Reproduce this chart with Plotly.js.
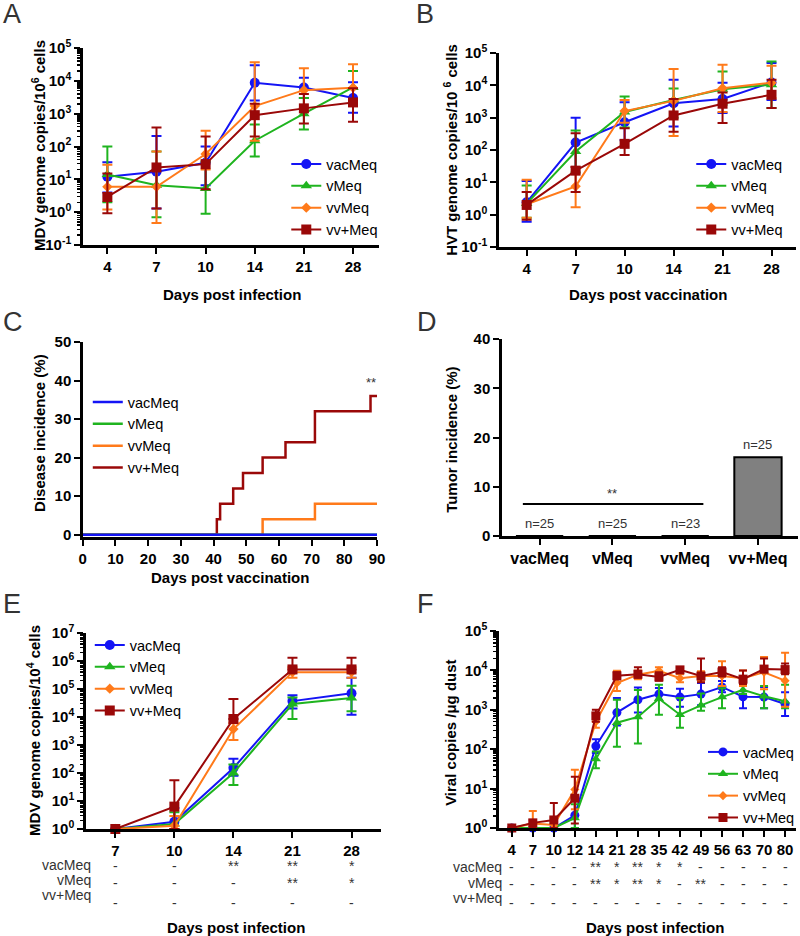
<!DOCTYPE html>
<html><head><meta charset="utf-8">
<script src="https://cdn.plot.ly/plotly-3.0.1.min.js"></script>
<style>html,body{margin:0;padding:0;background:#fff}#chart{width:800px;height:936px}</style>
</head><body><div id="chart"></div>
<script>
// ---------- DATA ----------
const groups = ['vacMeq', 'vMeq', 'vvMeq', 'vv+Meq'];

// Panel A: MDV genome copies / 10^6 cells (days post infection)
const daysA = ['4', '7', '10', '14', '21', '28'];
const A_vacMeq = [12, 17, 32, 8700, 6300, 3000];
const A_vacMeq_hi = [33, 210, 100, 30000, 12500, 9000];
const A_vacMeq_lo = [4, 1.3, 6.6, 2500, 3000, 1070];
const A_vMeq = [14, 6.6, 5.3, 150, 1000, 6300];
const A_vMeq_hi = [100, 70, 35, 470, 3000, 20000];
const A_vMeq_lo = [2, 0.7, 0.9, 50, 330, 2000];
const A_vvMeq = [5.9, 5.9, 59, 1700, 5200, 6200];
const A_vvMeq_hi = [28, 70, 300, 37000, 24000, 32000];
const A_vvMeq_lo = [1.2, 0.47, 20, 150, 1500, 2500];
const A_vvpMeq = [2.9, 23, 29, 900, 1450, 2200];
const A_vvpMeq_hi = [15, 380, 200, 2000, 4000, 5900];
const A_vvpMeq_lo = [0.93, 1.3, 5, 200, 500, 570];

// Panel B: HVT genome copies / 10^6 cells (days post vaccination)
const daysB = ['4', '7', '10', '14', '21', '28'];
const B_vacMeq = [2.4, 170, 720, 2800, 3800, 12300];
const B_vacMeq_hi = [11, 1000, 3000, 15000, 12000, 49000];
const B_vacMeq_lo = [0.6, 30, 200, 530, 1400, 3500];
const B_vMeq = [2.2, 90, 1500, 3500, 7600, 10500];
const B_vMeq_hi = [8, 400, 4500, 8000, 27000, 55000];
const B_vMeq_lo = [0.8, 20, 500, 1000, 2500, 2000];
const B_vvMeq = [2.1, 7.5, 1600, 3300, 8100, 12000];
const B_vvMeq_hi = [12, 30, 3500, 32000, 43000, 40000];
const B_vvMeq_lo = [0.8, 1.7, 700, 270, 1500, 4000];
const B_vvpMeq = [2.0, 23, 155, 1170, 2700, 5100];
const B_vvpMeq_hi = [5, 330, 470, 3800, 6000, 15000];
const B_vvpMeq_lo = [0.7, 5, 70, 370, 680, 2000];

// Panel C: disease incidence (%) step curves
const C_vacMeq_x = [0, 90], C_vacMeq_y = [0, 0];
const C_vMeq_x = [0, 90], C_vMeq_y = [0, 0];
const C_vvMeq_x = [0, 55, 71, 90], C_vvMeq_y = [0, 4, 8, 8];
const C_vvpMeq_x = [0, 41, 42, 46, 49, 55, 62, 71, 88, 90];
const C_vvpMeq_y = [0, 4, 8, 12, 16, 20, 24, 32, 36, 36];

// Panel D: tumor incidence (%)
const D_tumor = [0, 0, 0, 16];
const D_n = ['n=25', 'n=25', 'n=23', 'n=25'];

// Panel E: MDV genome copies / 10^4 cells
const daysE = ['7', '10', '14', '21', '28'];
const E_vacMeq = [1, 1.8, 150, 37000, 70000];
const E_vacMeq_hi = [1, 5.6, 320, 60000, 250000];
const E_vacMeq_lo = [1, 1, 80, 20000, 12000];
const E_vMeq = [1, 1.5, 100, 29000, 48000];
const E_vMeq_hi = [1, 4, 200, 50000, 130000];
const E_vMeq_lo = [1, 1, 37, 8500, 16000];
const E_vvMeq = [1, 1.3, 3700, 400000, 400000];
const E_vvMeq_hi = [1, 2.9, 6000, 600000, 600000];
const E_vvMeq_lo = [1, 1, 1500, 250000, 250000];
const E_vvpMeq = [1, 6.3, 8500, 500000, 500000];
const E_vvpMeq_hi = [1, 55, 44000, 1300000, 1300000];
const E_vvpMeq_lo = [1, 1, 8500, 500000, 500000];
const E_sig_vacMeq = ['-', '-', '**', '**', '*'];
const E_sig_vMeq = ['-', '-', '-', '**', '*'];
const E_sig_vvpMeq = ['-', '-', '-', '-', '-'];

// Panel F: viral copies / µg dust
const daysF = ['4', '7', '10', '12', '14', '21', '28', '35', '42', '49', '56', '63', '70', '80'];
const F_vacMeq = [1, 1, 1, 2.1, 120, 850, 1800, 2500, 2100, 2500, 3800, 2150, 2100, 1400];
const F_vacMeq_hi = [1, 1, 1, 6, 180, 2000, 3700, 3600, 3400, 4800, 5400, 4000, 3800, 2800];
const F_vacMeq_lo = [1, 1, 1, 1, 80, 400, 850, 1800, 1200, 1300, 2800, 1100, 1100, 700];
const F_vMeq = [1, 1, 1, 1.8, 56, 470, 660, 1900, 750, 1300, 2100, 3200, 2200, 1650];
const F_vMeq_hi = [1, 1, 1, 4, 87, 1800, 3200, 4300, 2000, 2600, 3500, 4000, 4000, 4300];
const F_vMeq_lo = [1, 1, 1, 1, 33, 115, 140, 750, 350, 950, 1100, 2500, 1100, 1100];
const F_vvMeq = [1, 1.3, 1.2, 9.5, 500, 4800, 7800, 9800, 6300, 7200, 7200, 6300, 9000, 5500];
const F_vvMeq_hi = [1, 2.7, 1.8, 30, 800, 9800, 10000, 12000, 8000, 9500, 17000, 10000, 22000, 28000];
const F_vvMeq_lo = [1, 1, 1, 3, 350, 3000, 6000, 8000, 5000, 5500, 4000, 4000, 3300, 1200];
const F_vvpMeq = [1, 1.35, 1.6, 5.7, 700, 7300, 8000, 6800, 10300, 7200, 9100, 6000, 10800, 10500];
const F_vvpMeq_hi = [1, 1.6, 4.3, 20, 1000, 9000, 12000, 9000, 12000, 20000, 12000, 10000, 20000, 15000];
const F_vvpMeq_lo = [1, 1, 1, 1.3, 500, 6000, 6500, 5500, 9000, 5000, 7000, 4500, 9000, 8000];
const F_sig_vacMeq = ['-', '-', '-', '-', '**', '*', '**', '*', '*', '-', '-', '-', '-', '-'];
const F_sig_vMeq = ['-', '-', '-', '-', '**', '*', '**', '*', '-', '**', '-', '-', '-', '-'];
const F_sig_vvpMeq = ['-', '-', '-', '-', '-', '-', '-', '-', '-', '-', '-', '-', '-', '-'];

// ---------- STYLE ----------
const FONT = 'Liberation Sans, Arial, sans-serif';
const W = 800, H = 936;
const colors = ['#1414f5', '#1fb41f', '#ff7a1a', '#9a0808'];
const symbols = ['circle', 'triangle-up', 'diamond', 'square'];
const sizes = [10, 10, 8, 10];

const px = v => v / W;
const py = v => 1 - v / H;

function errTrace(x, y, hi, lo, gi, xa, ya, leg, msize) {
  return {
    type: 'scatter', mode: 'lines+markers', x: x, y: y, name: groups[gi],
    xaxis: xa, yaxis: ya, legend: leg, cliponaxis: false,
    line: {color: colors[gi], width: 2},
    marker: {symbol: symbols[gi], size: (msize || sizes)[gi], color: colors[gi]},
    error_y: {type: 'data', symmetric: false,
      array: y.map((v, i) => hi[i] - v), arrayminus: y.map((v, i) => v - lo[i]),
      color: colors[gi], thickness: 2, width: 5}
  };
}

const traces = [];
// A
[[A_vacMeq, A_vacMeq_hi, A_vacMeq_lo], [A_vMeq, A_vMeq_hi, A_vMeq_lo], [A_vvMeq, A_vvMeq_hi, A_vvMeq_lo], [A_vvpMeq, A_vvpMeq_hi, A_vvpMeq_lo]]
  .forEach((d, i) => traces.push(errTrace(daysA, d[0], d[1], d[2], i, 'x', 'y', 'legend')));
// B
[[B_vacMeq, B_vacMeq_hi, B_vacMeq_lo], [B_vMeq, B_vMeq_hi, B_vMeq_lo], [B_vvMeq, B_vvMeq_hi, B_vvMeq_lo], [B_vvpMeq, B_vvpMeq_hi, B_vvpMeq_lo]]
  .forEach((d, i) => traces.push(errTrace(daysB, d[0], d[1], d[2], i, 'x2', 'y2', 'legend2')));
// C (draw blue last so it sits on top at 0)
const Cdata = [[C_vacMeq_x, C_vacMeq_y], [C_vMeq_x, C_vMeq_y], [C_vvMeq_x, C_vvMeq_y], [C_vvpMeq_x, C_vvpMeq_y]];
[3, 2, 1, 0].forEach(i => traces.push({
  type: 'scatter', mode: 'lines', x: Cdata[i][0], y: Cdata[i][1], name: groups[i],
  xaxis: 'x3', yaxis: 'y3', legend: 'legend3', legendrank: i + 1, cliponaxis: false,
  line: {color: colors[i], width: 2.5, shape: 'hv'}
}));
// D
traces.push({type: 'bar', x: groups, y: D_tumor, xaxis: 'x4', yaxis: 'y4', showlegend: false,
  width: 0.65, marker: {color: '#808080', line: {color: '#000', width: 2}}});
// E
[[E_vacMeq, E_vacMeq_hi, E_vacMeq_lo], [E_vMeq, E_vMeq_hi, E_vMeq_lo], [E_vvMeq, E_vvMeq_hi, E_vvMeq_lo], [E_vvpMeq, E_vvpMeq_hi, E_vvpMeq_lo]]
  .forEach((d, i) => traces.push(errTrace(daysE, d[0], d[1], d[2], i, 'x5', 'y5', 'legend4')));
// F
[[F_vacMeq, F_vacMeq_hi, F_vacMeq_lo], [F_vMeq, F_vMeq_hi, F_vMeq_lo], [F_vvMeq, F_vvMeq_hi, F_vvMeq_lo], [F_vvpMeq, F_vvpMeq_hi, F_vvpMeq_lo]]
  .forEach((d, i) => {
    const t = errTrace(daysF, d[0], d[1], d[2], i, 'x6', 'y6', 'legend5', [9, 9, 7, 9]);
    t.error_y.width = 4;
    traces.push(t);
  });

// ---------- AXES ----------
const tickfont = {family: FONT, size: 15, color: '#000', weight: 'bold'};
function baseAx(o) {
  return Object.assign({showgrid: false, zeroline: false, showline: true, linecolor: '#000', linewidth: 2.5,
    ticks: 'outside', ticklen: 6, tickwidth: 2, tickcolor: '#000', tickfont: tickfont, fixedrange: true}, o);
}
function logTicks(lo, hi) {
  const v = [], t = [];
  for (let e = lo; e <= hi; e++) { v.push(Math.pow(10, e)); t.push('10<sup>' + e + '</sup>'); }
  return {v, t};
}
function minorVals(lo, hi) {
  const m = [];
  for (let e = lo; e < hi; e++) for (let k = 2; k <= 9; k++) m.push(k * Math.pow(10, e));
  return m;
}
function logY(lo, hi, dom, anchor, withMinor) {
  const tk = logTicks(lo, hi);
  const o = baseAx({type: 'log', range: [lo, hi], domain: dom, anchor: anchor,
    tickmode: 'array', tickvals: tk.v, ticktext: tk.t});
  if (withMinor) o.minor = {tickmode: 'array', tickvals: minorVals(lo, hi), ticks: 'outside', ticklen: 3, tickwidth: 1.5, tickcolor: '#000'};
  return o;
}
const dom = (a, b) => [px(a), px(b)];
const domY = (top, bot) => [py(bot), py(top)];

const layout = {
  width: W, height: H, margin: {l: 0, r: 0, t: 0, b: 0},
  paper_bgcolor: '#fff', plot_bgcolor: 'rgba(0,0,0,0)', showlegend: true,
  font: {family: FONT, color: '#000'},
  xaxis: baseAx({type: 'category', domain: dom(83, 380), anchor: 'y', range: [-0.5, 5.53]}),
  yaxis: logY(-1, 5, domY(48, 245), 'x', true),
  xaxis2: baseAx({type: 'category', domain: dom(500, 798), anchor: 'y2', range: [-0.57, 5.5]}),
  yaxis2: logY(-1, 5, domY(53, 247), 'x2', false),
  xaxis3: baseAx({domain: dom(83, 378), anchor: 'y3', range: [0, 90], tickmode: 'linear', tick0: 0, dtick: 10, layer: 'below traces'}),
  yaxis3: baseAx({domain: domY(342, 537), anchor: 'x3', range: [-0.6, 50], tickmode: 'array', tickvals: [0, 10, 20, 30, 40, 50]}),
  xaxis4: baseAx({type: 'category', domain: dom(503, 800), anchor: 'y4', range: [-0.52, 3.55], tickfont: Object.assign({}, tickfont, {size: 16})}),
  yaxis4: baseAx({domain: domY(339, 536), anchor: 'x4', range: [0, 40], tickmode: 'linear', tick0: 0, dtick: 10}),
  xaxis5: baseAx({type: 'category', domain: dom(86, 382), anchor: 'y5', range: [-0.5, 4.5]}),
  yaxis5: logY(0, 7, domY(633, 829), 'x5', true),
  xaxis6: baseAx({type: 'category', domain: dom(500, 798), anchor: 'y6', range: [-0.62, 13.52]}),
  yaxis6: logY(0, 5, domY(631, 828), 'x6', true),
  annotations: [], shapes: []
};

const legBase = {xanchor: 'left', yanchor: 'top', bgcolor: 'rgba(0,0,0,0)', borderwidth: 0,
  font: {family: FONT, size: 14.5, color: '#000'}, itemwidth: 30, tracegroupgap: 0, traceorder: 'normal'};
layout.legend = Object.assign({}, legBase, {x: px(287), y: py(148)});
layout.legend2 = Object.assign({}, legBase, {x: px(693), y: py(148)});
layout.legend3 = Object.assign({}, legBase, {x: px(88), y: py(386)});
layout.legend4 = Object.assign({}, legBase, {x: px(90), y: py(629)});
layout.legend5 = Object.assign({}, legBase, {x: px(705), y: py(736)});

// ---------- TEXT ----------
const ann = layout.annotations;
function txt(x, y, text, o) {
  ann.push(Object.assign({xref: 'paper', yref: 'paper', x: px(x), y: py(y), text: text, showarrow: false,
    xanchor: 'center', yanchor: 'middle', font: {family: FONT, size: 15, color: '#000', weight: 'bold'}}, o || {}));
}
// panel letters
const letterFont = {family: FONT, size: 27, color: '#333'};
[['A', 1, 14], ['B', 415, 14], ['C', 1, 322], ['D', 416, 322], ['E', 1, 604], ['F', 416, 604]]
  .forEach(l => txt(l[1], l[2], l[0], {xanchor: 'left', font: letterFont}));
// axis titles
txt(38, 145, 'MDV genome copies/10<sup>6</sup> cells', {textangle: -90});
txt(233, 294, 'Days post infection');
txt(451, 150, 'HVT genome copies/10 <sup>6</sup> cells', {textangle: -90});
txt(650, 294, 'Days post vaccination');
txt(39, 433, 'Disease incidence (%)', {textangle: -90});
txt(231, 577, 'Days post vaccination');
txt(452, 440, 'Tumor incidence (%)', {textangle: -90});
txt(33, 730, 'MDV genome copies/10<sup>4</sup> cells', {textangle: -90});
txt(237, 927, 'Days post infection');
txt(451, 733, 'Viral copies /μg dust', {textangle: -90});
txt(657, 927, 'Days post infection');

const small = {family: FONT, size: 14, color: '#333'};
// C significance
ann.push({xref: 'x3', yref: 'y3', x: 88, y: 39.5, text: '**', showarrow: false, font: {family: FONT, size: 13, color: '#333'}});
// D n labels + significance line
D_n.forEach((t, i) => ann.push({xref: 'x4', yref: 'y4', x: i, y: D_tumor[i], text: t, showarrow: false,
  yanchor: 'bottom', yshift: 3, font: {family: FONT, size: 13, color: '#333'}}));
layout.shapes.push({type: 'line', xref: 'x4', yref: 'y4', x0: -0.23, x1: 2.25, y0: 6.5, y1: 6.5, line: {color: '#000', width: 2}});
ann.push({xref: 'x4', yref: 'y4', x: 1, y: 6.5, text: '**', showarrow: false, yanchor: 'bottom', yshift: 1, font: {family: FONT, size: 13, color: '#333'}});

// significance tables under E and F
function sigTable(labels, rows, xa, labelX, rowY, valY) {
  labels.forEach((lab, r) => {
    txt(labelX, rowY[r], lab, {xanchor: 'right', font: small});
    rows[r].forEach((s, i) => ann.push({xref: xa, yref: 'paper', x: i, y: py(valY[r]), text: s, showarrow: false,
      xanchor: 'center', yanchor: 'middle', font: small}));
  });
}
sigTable(['vacMeq', 'vMeq', 'vv+Meq'], [E_sig_vacMeq, E_sig_vMeq, E_sig_vvpMeq], 'x5', 93, [865, 880, 895], [866, 883, 903]);
sigTable(['vacMeq', 'vMeq', 'vv+Meq'], [F_sig_vacMeq, F_sig_vMeq, F_sig_vvpMeq], 'x6', 505, [867, 883, 898], [867, 884, 903]);

Plotly.newPlot('chart', traces, layout, {staticPlot: true, displayModeBar: false});
</script></body></html>
